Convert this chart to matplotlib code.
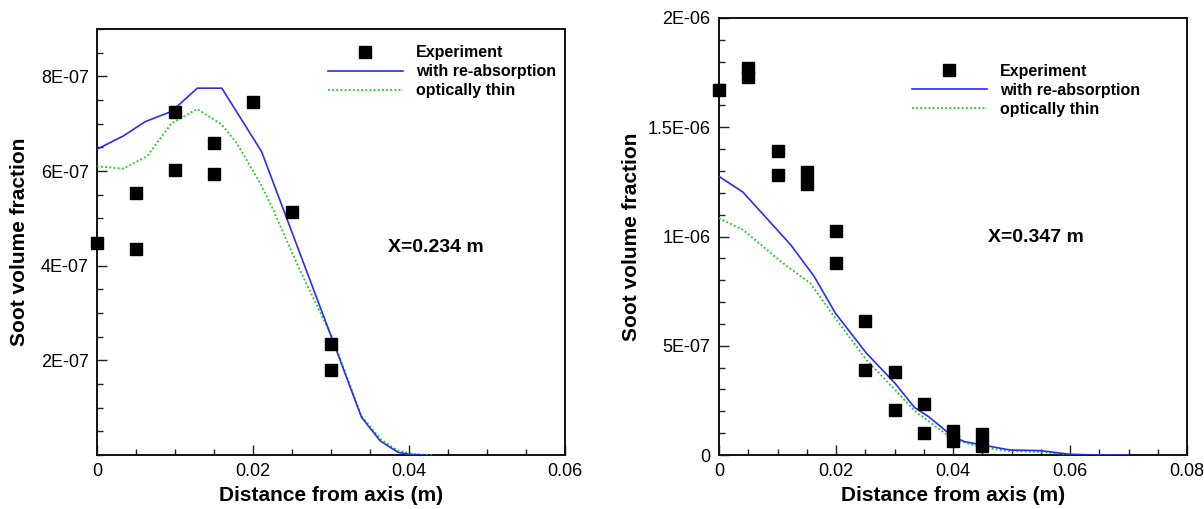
import matplotlib
matplotlib.use("Agg")
import matplotlib.pyplot as plt
from matplotlib.ticker import MultipleLocator

plt.rcParams['font.family'] = ['Liberation Sans', 'DejaVu Sans']

# ---------------- Left panel data (X = 0.234 m) ----------------
exp1_x = [0.0, 0.005, 0.005, 0.010, 0.010, 0.015, 0.015, 0.020, 0.025, 0.030, 0.030]
exp1_y = [4.48e-7, 5.53e-7, 4.36e-7, 7.24e-7, 6.03e-7, 6.59e-7, 5.94e-7, 7.46e-7, 5.14e-7, 2.35e-7, 1.80e-7]

reabs1_x = [0.0, 0.00337, 0.00615, 0.00957, 0.01286, 0.0160, 0.0211, 0.0302, 0.0339, 0.0363, 0.0386, 0.0401, 0.0420]
reabs1_y = [6.46e-7, 6.74e-7, 7.04e-7, 7.26e-7, 7.75e-7, 7.75e-7, 6.41e-7, 2.43e-7, 0.80e-7, 0.30e-7, 0.056e-7, 0.014e-7, 0.0]

thin1_x = [0.0, 0.00337, 0.0064, 0.00957, 0.01286, 0.0160, 0.0179, 0.0209, 0.0224, 0.0258, 0.0302, 0.0339, 0.0364, 0.0386, 0.0406, 0.0430]
thin1_y = [6.10e-7, 6.05e-7, 6.31e-7, 7.01e-7, 7.31e-7, 6.98e-7, 6.59e-7, 5.75e-7, 5.25e-7, 3.98e-7, 2.47e-7, 0.82e-7, 0.33e-7, 0.09e-7, 0.02e-7, 0.0]

# ---------------- Right panel data (X = 0.347 m) ----------------
exp2_x = [0.0, 0.005, 0.005, 0.010, 0.010, 0.015, 0.015, 0.020, 0.020, 0.025, 0.025,
          0.030, 0.030, 0.035, 0.035, 0.040, 0.040, 0.045, 0.045]
exp2_y = [1.672e-6, 1.769e-6, 1.728e-6, 1.392e-6, 1.281e-6, 1.293e-6, 1.241e-6, 1.026e-6, 0.878e-6,
          0.614e-6, 0.389e-6, 0.379e-6, 0.206e-6, 0.234e-6, 0.099e-6, 0.111e-6, 0.064e-6, 0.096e-6, 0.043e-6]

reabs2_x = [0.0, 0.0041, 0.01225, 0.0162, 0.0199, 0.0252, 0.0301, 0.0334, 0.0358, 0.0400, 0.0420,
            0.0450, 0.0497, 0.0550, 0.0600, 0.0650, 0.0700]
reabs2_y = [1.275e-6, 1.203e-6, 0.962e-6, 0.820e-6, 0.649e-6, 0.466e-6, 0.328e-6, 0.218e-6, 0.176e-6,
            0.084e-6, 0.061e-6, 0.046e-6, 0.023e-6, 0.020e-6, 0.003e-6, 0.0, 0.0]

thin2_x = [0.0, 0.0041, 0.0106, 0.0156, 0.0199, 0.0252, 0.0301, 0.0334, 0.0400, 0.0450, 0.0497,
           0.0550, 0.0600, 0.0650, 0.0700]
thin2_y = [1.084e-6, 1.031e-6, 0.885e-6, 0.786e-6, 0.626e-6, 0.435e-6, 0.298e-6, 0.203e-6, 0.072e-6,
           0.034e-6, 0.018e-6, 0.014e-6, 0.002e-6, 0.0, 0.0]

# ---------------- Ticks / labels ----------------
xticks1 = [0.0, 0.02, 0.04, 0.06]
xticklabels1 = ['0', '0.02', '0.04', '0.06']
yticks1 = [2e-7, 4e-7, 6e-7, 8e-7]
yticklabels1 = ['2E-07', '4E-07', '6E-07', '8E-07']

xticks2 = [0.0, 0.02, 0.04, 0.06, 0.08]
xticklabels2 = ['0', '0.02', '0.04', '0.06', '0.08']
yticks2 = [0.0, 5e-7, 1e-6, 1.5e-6, 2e-6]
yticklabels2 = ['0', '5E-07', '1E-06', '1.5E-06', '2E-06']

legend_labels = ['Experiment', 'with re-absorption', 'optically thin']
annot1 = 'X=0.234 m'
annot2 = 'X=0.347 m'
xlabel = 'Distance from axis (m)'
ylabel = 'Soot volume fraction'

BLUE = '#2b2bff'
GREEN = '#12d012'

fig = plt.figure(figsize=(12.04, 5.09), dpi=100)
ax1 = fig.add_axes([97/1204, 54/509, 468/1204, 426/509])
ax2 = fig.add_axes([719/1204, 54/509, 468/1204, 437/509])


def style(ax, xt, xtl, yt, ytl, xlim, ylim, xminor, yminor):
    ax.set_xlim(*xlim)
    ax.set_ylim(*ylim)
    ax.set_xticks(xt)
    ax.set_xticklabels(xtl)
    ax.set_yticks(yt)
    ax.set_yticklabels(ytl)
    ax.xaxis.set_minor_locator(MultipleLocator(xminor))
    ax.yaxis.set_minor_locator(MultipleLocator(yminor))
    ax.tick_params(which='both', direction='in', top=False, right=False,
                   labelsize=13, width=1.0, color='#222222')
    ax.tick_params(which='major', length=7.5, pad=6)
    ax.tick_params(which='minor', length=4.3)
    for s in ax.spines.values():
        s.set_linewidth(1.4)
        s.set_color('#111111')
    ax.set_xlabel(xlabel, fontsize=15, fontweight='bold')
    ax.set_ylabel(ylabel, fontsize=15, fontweight='bold')


def draw(ax, ex, ey, rx, ry, tx, ty):
    ax.plot(ex, ey, linestyle='none', marker='s', markersize=8, color='black',
            label=legend_labels[0], clip_on=False, zorder=5)
    ax.plot(rx, ry, color=BLUE, linewidth=1.2, label=legend_labels[1], zorder=4)
    ax.plot(tx, ty, color=GREEN, linewidth=1.3, linestyle=(0, (1.0, 1.3)),
            label=legend_labels[2], zorder=3)


draw(ax1, exp1_x, exp1_y, reabs1_x, reabs1_y, thin1_x, thin1_y)
draw(ax2, exp2_x, exp2_y, reabs2_x, reabs2_y, thin2_x, thin2_y)

style(ax1, xticks1, xticklabels1, yticks1, yticklabels1, (0, 0.06), (0, 9e-7), 0.005, 0.5e-7)
style(ax2, xticks2, xticklabels2, yticks2, yticklabels2, (0, 0.08), (0, 2e-6), 0.005, 1e-7)

ax1.yaxis.set_label_coords(-0.145, 0.5)
ax2.yaxis.set_label_coords(-0.167, 0.5)
ax1.xaxis.set_label_coords(0.5, -0.072)
ax2.xaxis.set_label_coords(0.5, -0.070)

for ax, anchor in ((ax1, (0.493, 0.962)), (ax2, (0.412, 0.895))):
    leg = ax.legend(loc='upper left', bbox_to_anchor=anchor, frameon=False,
                    borderpad=0, borderaxespad=0, handlelength=4.7,
                    handletextpad=0.8, labelspacing=0.25,
                    prop={'size': 11.5, 'weight': 'bold'})

ax1.text(0.622, 0.486, annot1, transform=ax1.transAxes, fontsize=14,
         fontweight='bold', va='center', ha='left')
ax2.text(0.575, 0.497, annot2, transform=ax2.transAxes, fontsize=14,
         fontweight='bold', va='center', ha='left')

fig.savefig('out.png', dpi=100)
